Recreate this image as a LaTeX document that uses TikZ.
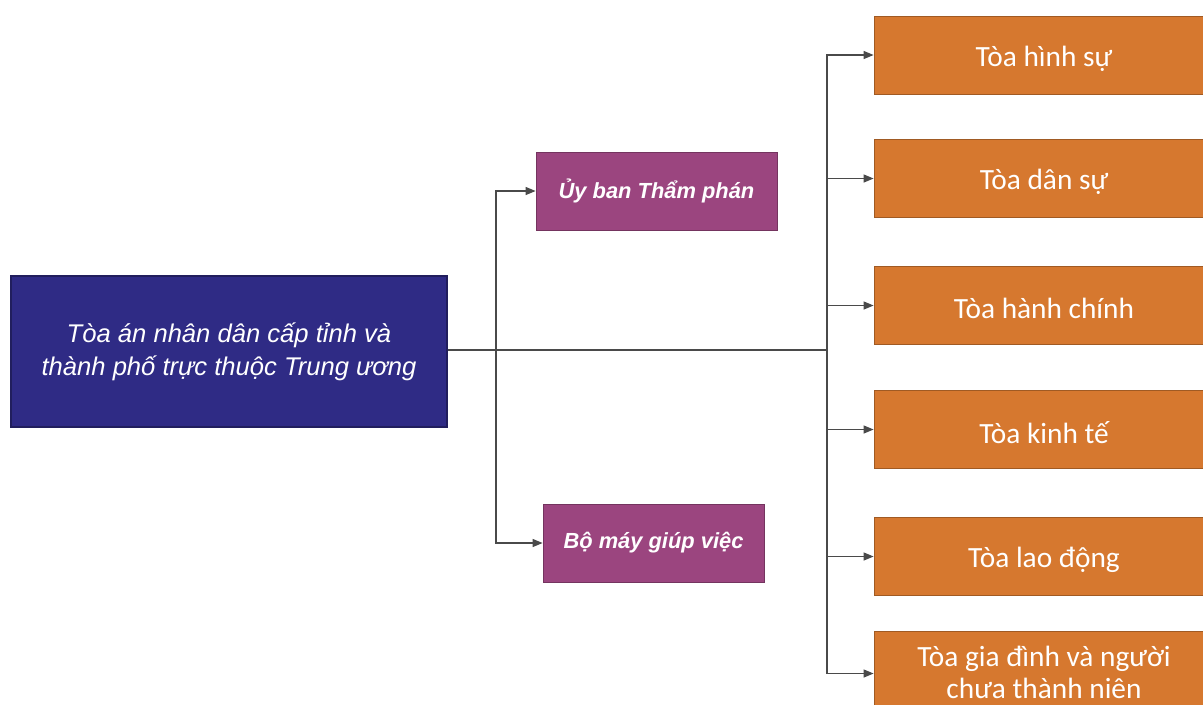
\documentclass[tikz,border=0pt]{standalone}
\usepackage{fontspec}
\setmainfont{Liberation Sans}
\newfontfamily\calibrifont{Carlito}
\usetikzlibrary{arrows.meta}
\definecolor{courtnavy}{HTML}{2F2B85}
\definecolor{courtpurple}{HTML}{9B457F}
\definecolor{courtorange}{HTML}{D6782F}
\definecolor{linkgray}{HTML}{4A4A4A}
\begin{document}
\begin{tikzpicture}[x=0.75pt,y=-0.75pt,
  box/.style={rectangle, inner sep=0pt, align=center, text=white},
  rootbox/.style={box, fill=courtnavy, draw=courtnavy!70!black, line width=0.8pt,
    minimum width=327pt, minimum height=113.25pt,
    font=\itshape\fontsize{19.2}{24.75}\selectfont},
  unitbox/.style={box, fill=courtpurple, draw=courtpurple!75!black, line width=0.6pt,
    minimum height=58.5pt, font=\bfseries\itshape\fontsize{16.4}{19}\selectfont},
  chamberbox/.style={box, fill=courtorange, draw=courtorange!75!black, line width=0.6pt,
    minimum width=255pt, minimum height=58.5pt},
  chambertext/.style={text=white, align=center, inner sep=0pt, yshift=-2.5pt,
    font=\calibrifont\fontsize{22}{24}\selectfont},
  link/.style={draw=linkgray, line width=0.9pt},
  arrowlink/.style={link, -{Triangle[length=7.5pt,width=6pt]}}]
  \useasboundingbox (0,0) rectangle (1203,704);
  \clip (0,0) rectangle (1203,704);

  % root court
  \node[rootbox] (root) at (229,351.5)
    {Tòa án nhân dân cấp tỉnh và\\thành phố trực thuộc Trung ương};

  % judicial committee and support apparatus
  \node[unitbox, minimum width=180.75pt] (judges) at (656.5,191) {Ủy ban Thẩm phán};
  \node[unitbox, minimum width=165.75pt] (support) at (653.5,543) {Bộ máy giúp việc};

  % specialised chambers (text set a little below the box centre)
  \node[chamberbox, label={[chambertext]center:Tòa hình sự}] (criminal) at (1044,55) {};
  \node[chamberbox, label={[chambertext]center:Tòa dân sự}] (civil) at (1044,178.5) {};
  \node[chamberbox, label={[chambertext]center:Tòa hành chính}] (admin) at (1044,305.5) {};
  \node[chamberbox, label={[chambertext]center:Tòa kinh tế}] (economic) at (1044,429.5) {};
  \node[chamberbox, label={[chambertext]center:Tòa lao động}] (labour) at (1044,556.5) {};
  \node[chamberbox, minimum height=60.75pt,
    label={[chambertext, yshift=2pt]center:Tòa gia đình và người\\chưa thành niên}]
    (family) at (1044,671.5) {};

  % branching points on the main trunk
  \coordinate (hub) at (496,350);
  \coordinate (split) at (827,350);

  \draw[link] (root.east |- hub) -- (split);
  \draw[arrowlink] (hub) |- (judges.west);
  \draw[arrowlink] (hub) |- (support.west);
  \foreach \c in {criminal,civil,admin,economic,labour}
    \draw[arrowlink] (split) |- (\c.west);
  \draw[arrowlink] (split) |- ([yshift=-1.5pt]family.west);
\end{tikzpicture}
\end{document}
